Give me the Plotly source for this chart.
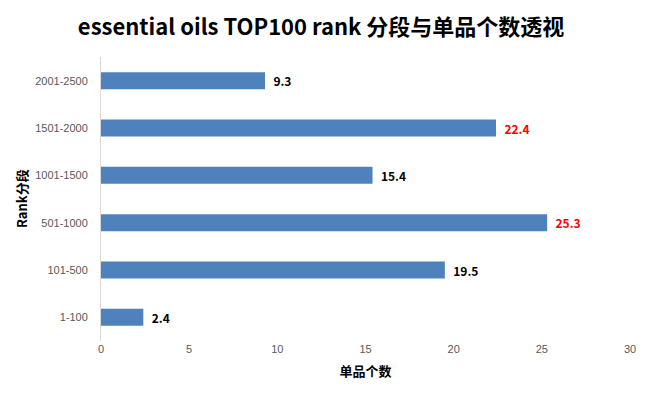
import plotly.graph_objects as go

categories = ["1-100", "101-500", "501-1000", "1001-1500", "1501-2000", "2001-2500"]
values = [2.4, 19.5, 25.3, 15.4, 22.4, 9.3]
label_colors = ["#000000", "#000000", "#FF0000", "#000000", "#FF0000", "#000000"]
x_ticks = [0, 5, 10, 15, 20, 25, 30]

fig = go.Figure(go.Bar(
    y=categories, x=values, orientation="h",
    marker=dict(color="#4F81BD", line=dict(width=0)),
    width=0.36,
    texttemplate="  <b>%{x}</b>",
    textposition="outside",
    textfont=dict(family="Noto Sans CJK SC, sans-serif", size=12, color=label_colors),
    cliponaxis=False,
))

fig.update_layout(
    width=651, height=397,
    margin=dict(l=93, r=29, t=49, b=64),
    paper_bgcolor="white", plot_bgcolor="white",
    title=dict(text="<b>essential oils TOP100 rank 分段与单品个数透视</b>",
               x=0.481, xanchor="center", y=0.952, yanchor="middle",
               font=dict(family="Noto Sans CJK SC, sans-serif", size=22, color="#000000")),
    xaxis=dict(range=[0, 30], tickvals=x_ticks, showgrid=False, zeroline=False,
               showline=False, ticks="", automargin=False,
               tickfont=dict(family="Liberation Sans, sans-serif", size=11, color="#595959"),
               title=dict(text="<b>单品个数</b>", standoff=12,
                          font=dict(family="Noto Sans CJK SC, sans-serif", size=13, color="#000000"))),
    yaxis=dict(showgrid=False, showline=True, linecolor="#D9D9D9", linewidth=1, ticks="",
               automargin=False, ticklabelstandoff=10,
               tickfont=dict(family="Liberation Sans, sans-serif", size=11, color="#595959")),
    annotations=[dict(text="<b>Rank分段</b>", xref="paper", yref="paper", x=0, y=0.5,
                      xshift=-80, xanchor="center", yanchor="middle", textangle=-90,
                      showarrow=False,
                      font=dict(family="Noto Sans CJK SC, sans-serif", size=13, color="#000000"))],
    showlegend=False,
)

fig.write_html("out.html")
